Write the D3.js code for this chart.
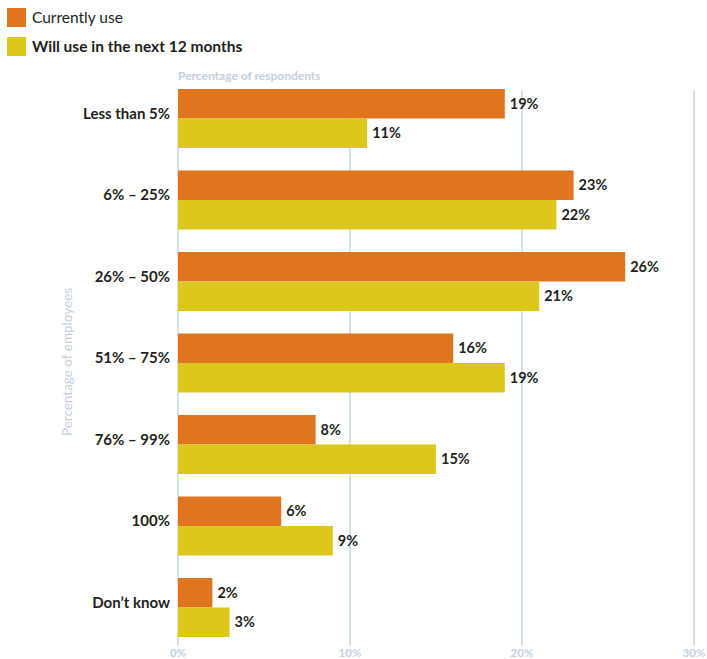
<!DOCTYPE html>
<html>
<head>
<meta charset="utf-8">
<script src="https://cdn.jsdelivr.net/npm/d3@7"></script>
<style>
  html, body { margin: 0; padding: 0; background: #fff; }
  svg { display: block; font-family: Lato, "Open Sans", sans-serif; }
</style>
</head>
<body>
<svg id="chart" width="707" height="659"></svg>
<script>
// Share of employees using the tool, by band
const categories = ["Less than 5%", "6% – 25%", "26% – 50%", "51% – 75%", "76% – 99%", "100%", "Don’t know"];
const currentlyUse = [19, 23, 26, 16, 8, 6, 2];
const willUse = [11, 22, 21, 19, 15, 9, 3];
const seriesNames = ["Currently use", "Will use in the next 12 months"];
const xTicks = [0, 10, 20, 30];

const colors = ["#E07520", "#DCC81C"];
const gridColor = "#C9D7E7";
const axisTextColor = "#C2D1E2";

const svg = d3.select("#chart");

const x = d3.scaleLinear().domain([0, 30]).range([178, 694]);
const y = d3.scaleBand().domain(categories).range([89, 637]).paddingInner(0.276).paddingOuter(0).align(0);
// Two bars stacked inside each band
const sub = d3.scaleBand().domain([0, 1]).range([0, y.bandwidth()]);

// vertical grid lines
svg.append("g").selectAll("line").data(xTicks.slice(1)).join("line")
  .attr("x1", d => x(d)).attr("x2", d => x(d))
  .attr("y1", 91).attr("y2", 646)
  .attr("stroke", gridColor).attr("stroke-width", 1.5);
svg.append("line")
  .attr("x1", x(0)).attr("x2", x(0)).attr("y1", 118).attr("y2", 646)
  .attr("stroke", gridColor).attr("stroke-width", 1.5);

// tick labels
svg.append("g").selectAll("text").data(xTicks).join("text")
  .attr("x", d => x(d)).attr("y", 657)
  .attr("text-anchor", "middle")
  .attr("fill", axisTextColor).attr("font-size", 11.5).attr("font-weight", 700)
  .text(d => d + "%");

// bars
const groups = svg.append("g").selectAll("g").data(categories).join("g")
  .attr("transform", d => `translate(0,${y(d)})`);

[currentlyUse, willUse].forEach((vals, si) => {
  groups.append("rect")
    .attr("x", x(0))
    .attr("y", sub(si))
    .attr("width", (d, i) => x(vals[i]) - x(0))
    .attr("height", sub.bandwidth())
    .attr("fill", colors[si]);
  groups.append("text")
    .attr("x", (d, i) => x(vals[i]) + 5)
    .attr("y", sub(si) + sub.bandwidth() / 2 + 5)
    .attr("font-size", 14.5).attr("font-weight", 700).attr("fill", "#231F20")
    .text((d, i) => vals[i] + "%");
});

// category labels
groups.append("text")
  .attr("x", 170).attr("y", 30)
  .attr("text-anchor", "end")
  .attr("font-size", 15).attr("font-weight", 700).attr("fill", "#231F20")
  .text(d => d);

// axis titles
svg.append("text")
  .attr("x", x(0)).attr("y", 80)
  .attr("font-size", 12).attr("font-weight", 700).attr("fill", axisTextColor)
  .text("Percentage of  respondents");
svg.append("text")
  .attr("transform", "translate(72,362) rotate(-90)")
  .attr("text-anchor", "middle")
  .attr("font-size", 13.5).attr("fill", axisTextColor)
  .text("Percentage of  employees");

// legend
const legend = svg.append("g").selectAll("g").data(seriesNames).join("g")
  .attr("transform", (d, i) => `translate(7,${8 + i * 29})`);
legend.append("rect").attr("width", 19).attr("height", 19).attr("fill", (d, i) => colors[i]);
legend.append("text")
  .attr("x", 25).attr("y", 15)
  .attr("font-size", 15.5)
  .attr("font-weight", (d, i) => i === 0 ? 400 : 700)
  .attr("fill", "#231F20")
  .text(d => d);
</script>
</body>
</html>
